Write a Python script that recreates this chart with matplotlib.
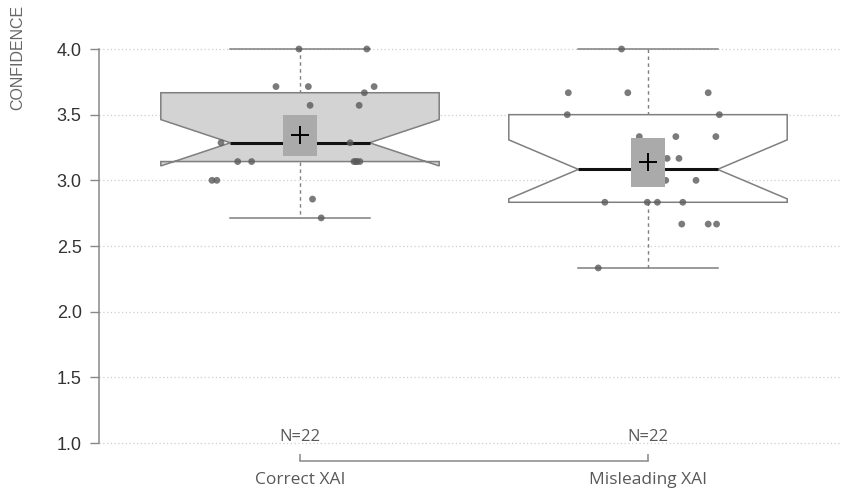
import numpy as np
import matplotlib
matplotlib.use("Agg")
import matplotlib.pyplot as plt
from matplotlib.patches import Polygon, Rectangle

# ---------------- data ----------------
categories = ["Correct XAI", "Misleading XAI"]
n_labels = ["N=22", "N=22"]
y_ticks = [1.0, 1.5, 2.0, 2.5, 3.0, 3.5, 4.0]
y_label = "CONFIDENCE"

correct_vals = [4.0, 4.0, 3.714, 3.714, 3.714, 3.667, 3.571, 3.571,
                3.286, 3.286, 3.286, 3.286,
                3.143, 3.143, 3.143, 3.143, 3.143, 3.143,
                3.0, 3.0, 2.857, 2.714]
correct_jit = [-0.003, 0.192, -0.069, 0.024, 0.213, 0.185, 0.029, 0.170,
               -0.227, 0.144, -0.010, 0.020,
               -0.179, -0.139, 0.155, 0.164, 0.172, 0.160,
               -0.253, -0.239, 0.036, 0.061]

misleading_vals = [4.0, 3.667, 3.667, 3.667, 3.5, 3.5,
                   3.333, 3.333, 3.333, 3.167, 3.167,
                   3.0, 3.0, 3.0,
                   2.833, 2.833, 2.833, 2.833,
                   2.667, 2.667, 2.667, 2.333]
misleading_jit = [-0.076, -0.229, -0.058, 0.173, -0.232, 0.205,
                  -0.025, 0.080, 0.195, 0.055, 0.089,
                  0.051, 0.138, -0.020,
                  -0.124, -0.002, 0.027, 0.100,
                  0.097, 0.173, 0.197, -0.143]

groups = [correct_vals, misleading_vals]
jitters = [correct_jit, misleading_jit]
box_fill = ["#d3d3d3", "#ffffff"]
T975_DF21 = 2.0796  # t quantile for 95% CI of the mean (n=22)

# ---------------- figure ----------------
W, H = 841, 497
fig = plt.figure(figsize=(W / 100, H / 100), dpi=100)
ax_l, ax_r, ax_t, ax_b = 99, 840, 40, 450
ax = fig.add_axes([ax_l / W, 1 - ax_b / H, (ax_r - ax_l) / W, (ax_b - ax_t) / H])
ppu_y = (443 - 49) / 3.0
ax.set_ylim(1.0 - (ax_b - 443) / ppu_y, 4.0 + (49 - ax_t) / ppu_y)
ppu_x = 648 - 300
ax.set_xlim(1 - (300 - ax_l) / ppu_x, 2 + (ax_r - 648) / ppu_x)

edge = "#7f7f7f"
label_font = "Open Sans"


def fivenum(v):
    x = np.sort(np.asarray(v, float))
    n = len(x)
    n4 = np.floor((n + 3) / 2) / 2
    d = np.array([1, n4, (n + 1) / 2, n + 1 - n4, n])
    return 0.5 * (x[np.floor(d).astype(int) - 1] + x[np.ceil(d).astype(int) - 1])


# grid
for yt in y_ticks:
    ax.axhline(yt, color="#cfcfcf", lw=0.9, ls=(0, (1, 2)), zorder=0)

half = 0.4
for i, (vals, jit) in enumerate(zip(groups, jitters)):
    x0 = i + 1
    v = np.asarray(vals, float)
    mn, q1, med, q3, mx = fivenum(v)
    iqr = q3 - q1
    lo_w = v[v >= q1 - 1.5 * iqr].min()
    hi_w = v[v <= q3 + 1.5 * iqr].max()
    nh = 1.58 * iqr / np.sqrt(len(v))
    n_lo, n_hi = med - nh, med + nh
    nw = half * 0.5
    xs = [x0 - half, x0 - half, x0 - nw, x0 - half, x0 - half,
          x0 + half, x0 + half, x0 + nw, x0 + half, x0 + half]
    ys = [q1, n_lo, med, n_hi, q3, q3, n_hi, med, n_lo, q1]
    ax.add_patch(Polygon(np.column_stack([xs, ys]), closed=True,
                         facecolor=box_fill[i], edgecolor=edge, lw=1.1, zorder=2))
    # whiskers
    ax.plot([x0, x0], [q3, hi_w], color=edge, lw=1.0, ls=(0, (2.5, 2.5)), zorder=1.5)
    ax.plot([x0, x0], [q1, lo_w], color=edge, lw=1.0, ls=(0, (2.5, 2.5)), zorder=1.5)
    ax.plot([x0 - half / 2, x0 + half / 2], [hi_w, hi_w], color=edge, lw=1.1, zorder=1.5)
    ax.plot([x0 - half / 2, x0 + half / 2], [lo_w, lo_w], color=edge, lw=1.1, zorder=1.5)
    # median
    ax.plot([x0 - nw, x0 + nw], [med, med], color="#111111", lw=2.2, zorder=3,
            solid_capstyle="butt")
    # points
    ax.scatter(x0 + np.asarray(jit), v, s=24, color="#5a5a5a", alpha=0.8,
               edgecolors="none", zorder=4)
    # mean and 95% CI box
    m = v.mean()
    ci = T975_DF21 * v.std(ddof=1) / np.sqrt(len(v))
    bw = 0.049
    ax.add_patch(Rectangle((x0 - bw, m - ci), 2 * bw, 2 * ci,
                           facecolor="#aaaaaa", edgecolor="none", zorder=5))
    ax.plot([x0], [m], marker="+", ms=13, mew=1.4, color="black", zorder=6)
    # N label
    ax.text(x0, 1.046, n_labels[i], ha="center", va="center", fontsize=12,
            color="#595959", family=label_font, zorder=6)

# axes styling
for s in ["top", "right"]:
    ax.spines[s].set_visible(False)
ax.spines["left"].set_bounds(1.0, 4.0)
ax.spines["left"].set_color("#888888")
ax.spines["left"].set_linewidth(1.1)
ax.set_yticks(y_ticks)
ax.set_yticklabels([f"{t:.1f}" for t in y_ticks], family="Liberation Sans",
                   fontsize=13, color="#333333")
ax.tick_params(axis="y", length=6.5, width=1.0, color="#888888", pad=6)

ax.spines["bottom"].set_position(("outward", 8))
ax.spines["bottom"].set_bounds(1, 2)
ax.spines["bottom"].set_color("#888888")
ax.spines["bottom"].set_linewidth(1.1)
ax.set_xticks([1, 2])
ax.set_xticklabels(categories, family=label_font, fontsize=12.5, color="#595959")
ax.tick_params(axis="x", direction="in", length=5, width=1.1, color="#888888", pad=8)

fig.text(18 / W, 1 - 5 / H, y_label, rotation=90, ha="center", va="top",
         fontsize=11.5, color="#666666", family="Liberation Sans")

fig.savefig("out.png", dpi=100)
